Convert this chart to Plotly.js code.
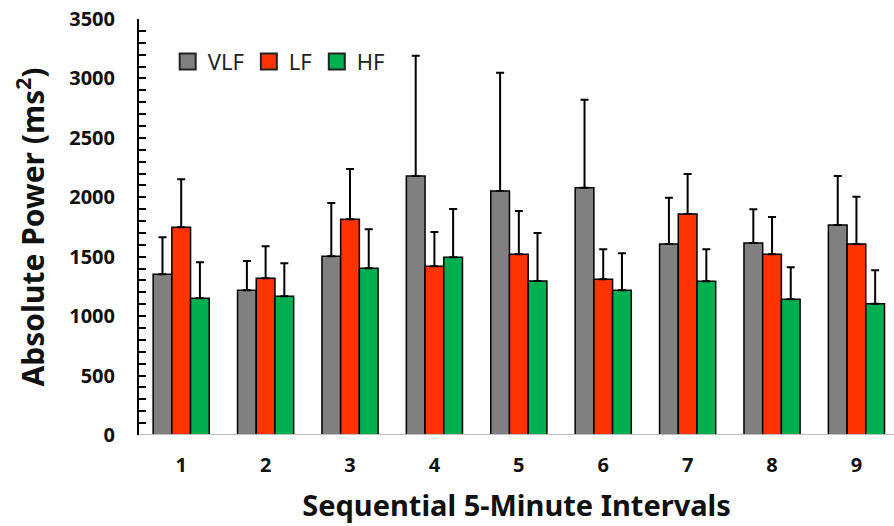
<!DOCTYPE html>
<html>
<head>
<meta charset="utf-8">
<script src="https://cdn.plot.ly/plotly-3.0.1.min.js"></script>
<style>html,body{margin:0;padding:0;background:#fff;overflow:hidden}#chart{width:894px;height:526px}</style>
</head>
<body>
<div id="chart"></div>
<script>
const intervals = [1, 2, 3, 4, 5, 6, 7, 8, 9];
const tickLabels = ["1", "2", "3", "4", "5", "6", "7", "8", "9"];
const vlfMean = [1352, 1217, 1503, 2179, 2053, 2081, 1607, 1615, 1767];
const vlfSD   = [311, 247, 449, 1011, 995, 740, 390, 284, 412];
const lfMean  = [1747, 1318, 1815, 1419, 1520, 1310, 1859, 1520, 1607];
const lfSD    = [404, 269, 423, 289, 365, 252, 337, 314, 398];
const hfMean  = [1150, 1167, 1402, 1495, 1296, 1217, 1293, 1142, 1105];
const hfSD    = [303, 277, 329, 406, 404, 312, 269, 269, 281];
const seriesNames = ["VLF", "LF", "HF"];
const colors = ["#808080", "#FF3300", "#00B050"];

const zeros = intervals.map(() => 0);
function mk(name, y, sd, color) {
  return {
    type: "bar", name: name, x: intervals, y: y, showlegend: false,
    marker: {color: color, line: {color: "#000", width: 1.5}},
    error_y: {type: "data", symmetric: false, array: sd, arrayminus: zeros,
              color: "#000", thickness: 2, width: 4},
    hoverinfo: "skip"
  };
}
function legendEntry(name, color) {
  return {
    type: "scatter", mode: "markers", name: name, x: [null], y: [null],
    marker: {symbol: "square", size: 16, color: color, line: {color: "#222", width: 2}},
    hoverinfo: "skip"
  };
}
const data = [
  mk(seriesNames[0], vlfMean, vlfSD, colors[0]),
  mk(seriesNames[1], lfMean, lfSD, colors[1]),
  mk(seriesNames[2], hfMean, hfSD, colors[2]),
  legendEntry(seriesNames[0], colors[0]),
  legendEntry(seriesNames[1], colors[1]),
  legendEntry(seriesNames[2], colors[2])
];
const font = "Noto Sans, Open Sans, DejaVu Sans, sans-serif";
const layout = {
  width: 894, height: 526,
  margin: {l: 139, r: 0, t: 19, b: 91},
  paper_bgcolor: "#fff", plot_bgcolor: "#fff",
  barmode: "group", bargap: 0.335, bargroupgap: 0,
  showlegend: true,
  legend: {orientation: "h", x: 0.038, y: 0.948, xanchor: "left", yanchor: "top",
           font: {family: font, size: 22, color: "#222"}, itemwidth: 30,
           tracegroupgap: 0, bgcolor: "rgba(0,0,0,0)"},
  xaxis: {
    range: [0.5, 9.445], tickvals: intervals, ticktext: tickLabels,
    showgrid: false, zeroline: false, showline: false, ticks: "",
    ticklabelstandoff: 16,
    tickfont: {family: font, size: 20, color: "#111", weight: "bold"},
    title: {text: "Sequential 5-Minute Intervals", standoff: 18,
            font: {family: font, size: 29, color: "#111", weight: "bold"}}
  },
  yaxis: {
    range: [0, 3500], tickvals: [0, 500, 1000, 1500, 2000, 2500, 3000, 3500],
    showgrid: false, zeroline: false, showline: true, linecolor: "#000", linewidth: 2,
    ticks: "inside", ticklen: 7, tickwidth: 2, tickcolor: "#000",
    minor: {dtick: 100, ticks: "inside", ticklen: 7, tickwidth: 2, tickcolor: "#000"},
    ticklabelstandoff: 18,
    tickfont: {family: font, size: 20, color: "#111", weight: "bold"},
    title: {text: "Absolute Power (ms<sup>2</sup>)", standoff: 16,
            font: {family: font, size: 30, color: "#111", weight: "bold"}}
  },
  shapes: [{type: "line", xref: "paper", yref: "y", x0: 0, x1: 1, y0: 0, y1: 0,
            line: {color: "#BFBFBF", width: 2}, layer: "above"}]
};
Plotly.newPlot("chart", data, layout, {displayModeBar: false, staticPlot: true});
</script>
</body>
</html>
